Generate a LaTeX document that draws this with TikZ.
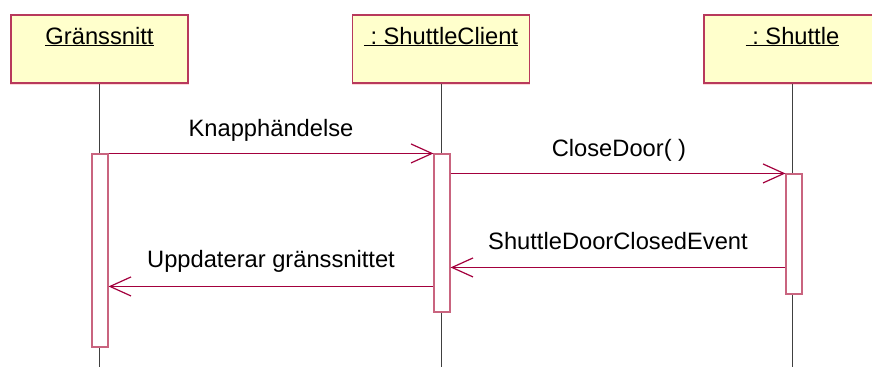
\documentclass[tikz,border=0pt]{standalone}
\usepackage{fontspec}
\setmainfont{Liberation Sans}
\usepackage{tikz}
\usepackage{xcolor}
\usetikzlibrary{arrows.meta,positioning,calc}
\definecolor{objfill}{HTML}{FFFFCC}
\definecolor{objline}{HTML}{B8395C}
\definecolor{actline}{HTML}{C9647F}
\definecolor{msg}{HTML}{A3003D}
\definecolor{life}{HTML}{404040}
\tikzset{
  objbox/.style={draw=objline, fill=objfill, line width=1.1pt, minimum width=177pt,
                 minimum height=68pt, inner sep=0pt},
  objname/.style={font=\fontsize{23.7}{28}\selectfont, anchor=base, inner sep=0pt},
  actbox/.style={draw=actline, fill=white, line width=1.1pt, minimum width=16pt, inner sep=0pt},
  lifeline/.style={draw=life, line width=1pt},
  msgarrow/.style={-{Straight Barb[length=21pt,width=19pt,line width=1.2pt]}, draw=msg, line width=1.2pt},
  msglabel/.style={font=\fontsize{23.7}{28}\selectfont, anchor=base, inner sep=0pt}
}

\begin{document}
\begin{tikzpicture}[x=1pt,y=-1pt]
        \useasboundingbox (0,0) rectangle (872,367);
        \clip (0,0) rectangle (872,367);
        % objects and lifelines
        \foreach \nm/\cx/\lab in {g/99.5/{Gränssnitt},c/441/{\ :\ ShuttleClient},s/792.5/{\ :\ Shuttle}} {
          \node[objbox] (\nm) at (\cx,49) {};
          \draw[pink!60,line width=1pt] ($(\nm.south west)+(0,1.2)$) -- ($(\nm.south east)+(0,1.2)$);
          \node[objname] (\nm-name) at (\cx,44) {\underline{\lab}};
          \draw[lifeline] (\nm.south) -- (\nm.south |- 0,367);
        }
        % activations
        \node[actbox,minimum height=193pt] (ga) at (100,250.5) {};
        \node[actbox,minimum height=158pt] (ca) at (442,233) {};
        \node[actbox,minimum height=120pt] (sa) at (794,234) {};
        % messages
        \coordinate (ret) at ($(sa.north west)+(0,94)$);
        \coordinate (upd) at ($(ca.north west)+(0,133)$);
        \draw[msgarrow] (ga.north east) -- (ca.north west);
        \draw[msgarrow] (ca.east |- sa.north west) -- (sa.north west);
        \draw[msgarrow] (ret) -- (ca.east |- ret);
        \draw[msgarrow] (upd) -- (ga.east |- upd);
        \node[msglabel] (l1) at (271,136) {Knapphändelse};
        \node[msglabel] (l2) at (619,156) {CloseDoor( )};
        \node[msglabel] (l3) at (618,249) {ShuttleDoorClosedEvent};
        \node[msglabel] (l4) at (271,267) {Uppdaterar gränssnittet};
      \end{tikzpicture}
\end{document}
